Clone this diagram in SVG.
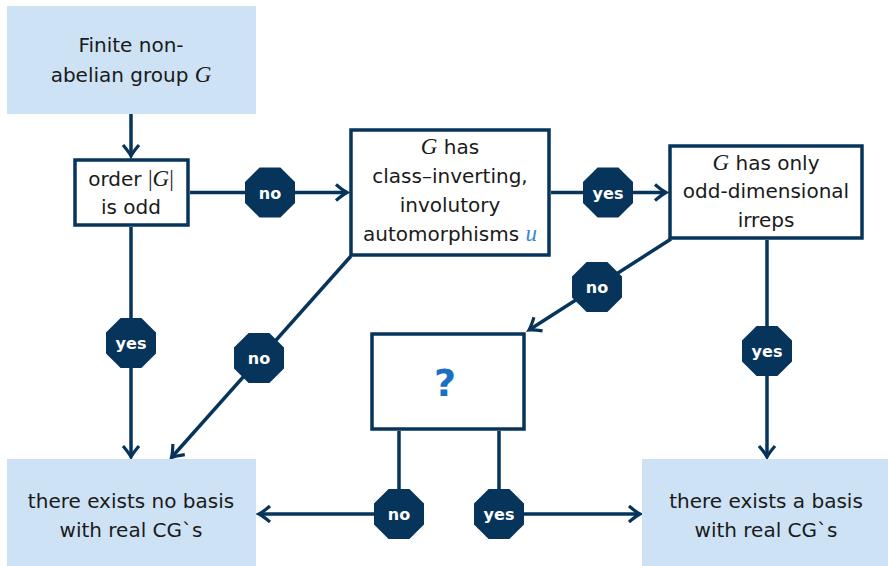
<svg xmlns="http://www.w3.org/2000/svg" width="888" height="566" viewBox="0 0 888 566">
<style>
.lb{fill:#cde2f4;stroke:none}
.wb{fill:#ffffff;stroke:#06345a;stroke-width:3.5}
.t{font-family:"DejaVu Sans","Liberation Sans",sans-serif;font-size:20px;fill:#1a1a1a;text-anchor:middle}
.mi{font-family:"Liberation Serif","DejaVu Serif",serif;font-style:italic;font-size:23px}
.mu{font-family:"Liberation Serif","DejaVu Serif",serif;font-size:23px}
.bl{fill:#3a86d6}
.c{fill:none;stroke:#06345a;stroke-width:3.5}
.oc{fill:#06345a}
.ol{font-family:"DejaVu Sans","Liberation Sans",sans-serif;font-weight:bold;font-size:16px;fill:#ffffff;text-anchor:middle}
.q{font-family:"DejaVu Sans","Liberation Sans",sans-serif;font-weight:bold;font-size:38px;fill:#1a6fc4;text-anchor:middle}
</style>
<defs>
<marker id="ah" markerUnits="userSpaceOnUse" markerWidth="20" markerHeight="20" viewBox="-14 -10 16 20" refX="0" refY="0" orient="auto">
<path d="M-11,-8 Q-4,-2 0,0 Q-4,2 -11,8" fill="none" stroke="#06345a" stroke-width="3.2"/>
</marker>
<path id="oct" d="M-10.4,-25 L10.4,-25 L25,-10.4 L25,10.4 L10.4,25 L-10.4,25 L-25,10.4 L-25,-10.4 Z"/>
</defs>

<g id="connectors">
<path class="c" d="M131,114 L131,156" marker-end="url(#ah)"/>
<path class="c" d="M190,192.5 L347,192.5" marker-end="url(#ah)"/>
<path class="c" d="M551,192.5 L666,192.5" marker-end="url(#ah)"/>
<path class="c" d="M131,227 L131,457" marker-end="url(#ah)"/>
<path class="c" d="M351,256 L171.5,457.5" marker-end="url(#ah)"/>
<path class="c" d="M671,239 L529,330" marker-end="url(#ah)"/>
<path class="c" d="M767,240 L767,457" marker-end="url(#ah)"/>
<path class="c" d="M399,431 L399,514 L259,514" marker-end="url(#ah)"/>
<path class="c" d="M499,431 L499,514 L640,514" marker-end="url(#ah)"/>
<g id="lbl-no1"><use href="#oct" class="oc" x="270" y="192.5"/><text class="ol" x="270" y="198.5">no</text></g>
<g id="lbl-yes1"><use href="#oct" class="oc" x="608" y="192.5"/><text class="ol" x="608" y="198.5">yes</text></g>
<g id="lbl-yes2"><use href="#oct" class="oc" x="131" y="343"/><text class="ol" x="131" y="349">yes</text></g>
<g id="lbl-no2"><use href="#oct" class="oc" x="259" y="358"/><text class="ol" x="259" y="364">no</text></g>
<g id="lbl-no3"><use href="#oct" class="oc" x="597" y="287"/><text class="ol" x="597" y="293">no</text></g>
<g id="lbl-yes3"><use href="#oct" class="oc" x="767" y="351"/><text class="ol" x="767" y="357">yes</text></g>
<g id="lbl-no4"><use href="#oct" class="oc" x="399" y="514"/><text class="ol" x="399" y="520">no</text></g>
<g id="lbl-yes4"><use href="#oct" class="oc" x="499" y="514"/><text class="ol" x="499" y="520">yes</text></g>
</g>

<g id="start">
<rect class="lb" x="7" y="6" width="249" height="108"/>
<text class="t" x="131" y="52">Finite non-</text>
<text class="t" x="131" y="82">abelian group <tspan class="mi">G</tspan></text>
</g>

<g id="order">
<rect class="wb" x="75" y="160" width="113" height="65"/>
<text class="t" x="131" y="186">order <tspan class="mu">|</tspan><tspan class="mi">G</tspan><tspan class="mu">|</tspan></text>
<text class="t" x="131" y="214">is odd</text>
</g>

<g id="classinv">
<rect class="wb" x="351" y="130" width="198" height="125"/>
<text class="t" x="450" y="154"><tspan class="mi">G</tspan> has</text>
<text class="t" x="450" y="183">class–inverting,</text>
<text class="t" x="450" y="212">involutory</text>
<text class="t" x="450" y="241">automorphisms <tspan class="mi bl">u</tspan></text>
</g>

<g id="oddirreps">
<rect class="wb" x="670" y="146" width="192" height="92"/>
<text class="t" x="766" y="170"><tspan class="mi">G</tspan> has only</text>
<text class="t" x="766" y="198">odd-dimensional</text>
<text class="t" x="766" y="227">irreps</text>
</g>

<g id="unknown">
<rect class="wb" x="372" y="334" width="152" height="95"/>
<text class="q" x="445" y="396">?</text>
</g>

<g id="noreal">
<rect class="lb" x="7" y="459" width="249" height="107"/>
<text class="t" x="131" y="508">there exists no basis</text>
<text class="t" x="131" y="537">with real CG`s</text>
</g>

<g id="real">
<rect class="lb" x="642" y="459" width="246" height="107"/>
<text class="t" x="766" y="508">there exists a basis</text>
<text class="t" x="766" y="537">with real CG`s</text>
</g>
</svg>
